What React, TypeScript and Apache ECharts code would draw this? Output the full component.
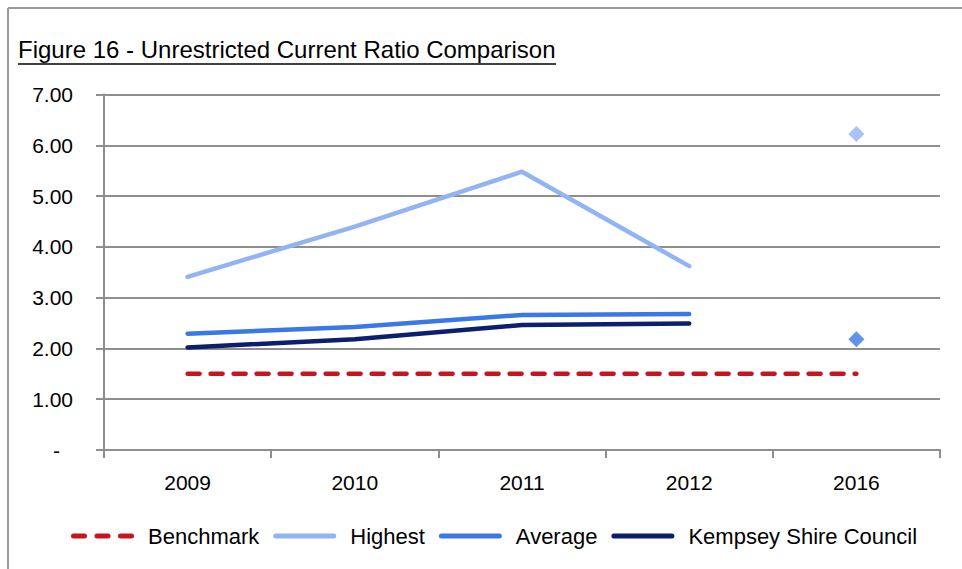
import React, { useEffect, useRef } from "react";
import * as echarts from "echarts";

const years = ["2009", "2010", "2011", "2012", "2016"];
const benchmark = [1.5, 1.5, 1.5, 1.5, 1.5];
const highest = [3.41, 4.4, 5.48, 3.62, "-"];
const average = [2.29, 2.42, 2.66, 2.68, "-"];
const kempsey = [2.02, 2.18, 2.46, 2.49, "-"];
const highest2016 = ["-", "-", "-", "-", 6.22];
const average2016 = ["-", "-", "-", "-", 2.18];
const legendNames = ["Benchmark", "Highest", "Average", "Kempsey Shire Council"];
const title = "Figure 16 - Unrestricted Current Ratio Comparison";

const FONT = "'Liberation Sans', Arial, sans-serif";
const C_BENCH = "#C8141F";
const C_HIGH = "#92B4F2";
const C_AVG = "#3A78E8";
const C_KEMP = "#0B1F6E";

const rr = (x0: number, x1: number) =>
  `M${x0 + 2.5},0 H${x1 - 2.5} A2.5,2.5 0 0 1 ${x1 - 2.5},5 H${x0 + 2.5} A2.5,2.5 0 0 1 ${x0 + 2.5},0 Z`;
const ICON_SOLID = "path://" + rr(0, 63);
const ICON_DASH = "path://" + rr(0, 16) + " " + rr(23.5, 39.5) + " " + rr(47, 63);

export default function App() {
  const ref = useRef<HTMLDivElement>(null);
  useEffect(() => {
    if (!ref.current) return;
    const chart = echarts.init(ref.current, null, { renderer: "svg" });
    const lineSeries = (name: string, data: any[], color: string, dashed = false) => ({
      name,
      type: "line",
      data,
      symbol: "none",
      showSymbol: false,
      connectNulls: false,
      lineStyle: {
        color,
        width: 4.5,
        cap: "round",
        join: "round",
        type: dashed ? [12, 11] : "solid",
      },
      itemStyle: { color },
      z: 3,
    });
    chart.setOption({
      animation: false,
      backgroundColor: "#ffffff",
      textStyle: { fontFamily: FONT },
      grid: { left: 104, right: 22, top: 94.5, bottom: 119, containLabel: false },
      graphic: [
        { type: "line", shape: { x1: 8, y1: 8, x2: 962, y2: 8 }, style: { stroke: "#9a9a9a", lineWidth: 2 } },
        { type: "line", shape: { x1: 8, y1: 8, x2: 8, y2: 569 }, style: { stroke: "#9a9a9a", lineWidth: 2 } },
        {
          type: "text",
          left: 18,
          top: 37,
          style: { text: title, font: `24px ${FONT}`, fill: "#000" },
        },
        { type: "line", shape: { x1: 18, y1: 64, x2: 556, y2: 64 }, style: { stroke: "#000", lineWidth: 1.5 } },
      ],
      legend: {
        left: 71,
        top: 525,
        padding: 0,
        itemWidth: 63,
        itemHeight: 5,
        itemGap: 14,
        data: legendNames.map((name, i) => ({ name, icon: i === 0 ? ICON_DASH : ICON_SOLID })),
        textStyle: { fontSize: 22, color: "#000", fontFamily: FONT, padding: [0, 0, 0, 9] },
      },
      xAxis: {
        type: "category",
        data: years,
        boundaryGap: true,
        axisLine: { show: true, lineStyle: { color: "#8e8e8e", width: 2 } },
        axisTick: { show: true, length: 8, lineStyle: { color: "#8e8e8e", width: 2 } },
        axisLabel: { fontSize: 21, color: "#000", margin: 22, fontFamily: FONT },
        splitLine: { show: false },
      },
      yAxis: {
        type: "value",
        min: 0,
        max: 7,
        interval: 1,
        axisLine: { show: true, lineStyle: { color: "#8e8e8e", width: 2 } },
        axisTick: { show: true, length: 8, lineStyle: { color: "#8e8e8e", width: 2 } },
        splitLine: { show: true, lineStyle: { color: "#8e8e8e", width: 2 } },
        axisLabel: {
          fontSize: 21,
          color: "#000",
          margin: 31,
          fontFamily: FONT,
          formatter: (v: number) => (v === 0 ? "{z|-}" : v.toFixed(2)),
          rich: { z: { fontSize: 21, fontFamily: FONT, color: "#000", padding: [0, 13, 0, 0] } },
        },
      },
      series: [
        lineSeries("Benchmark", benchmark, C_BENCH, true),
        lineSeries("Highest", highest, C_HIGH),
        lineSeries("Average", average, C_AVG),
        lineSeries("Kempsey Shire Council", kempsey, C_KEMP),
        {
          name: "Highest",
          type: "scatter",
          data: highest2016,
          symbol: "diamond",
          symbolSize: 16,
          itemStyle: { color: C_HIGH },
          z: 4,
        },
        {
          name: "Average",
          type: "scatter",
          data: average2016,
          symbol: "diamond",
          symbolSize: 16,
          itemStyle: { color: C_AVG },
          z: 4,
        },
      ],
    });
    return () => chart.dispose();
  }, []);
  return (
    <div
      ref={ref}
      style={{ position: "fixed", left: 0, top: 0, width: 962, height: 569, background: "#fff" }}
    />
  );
}
